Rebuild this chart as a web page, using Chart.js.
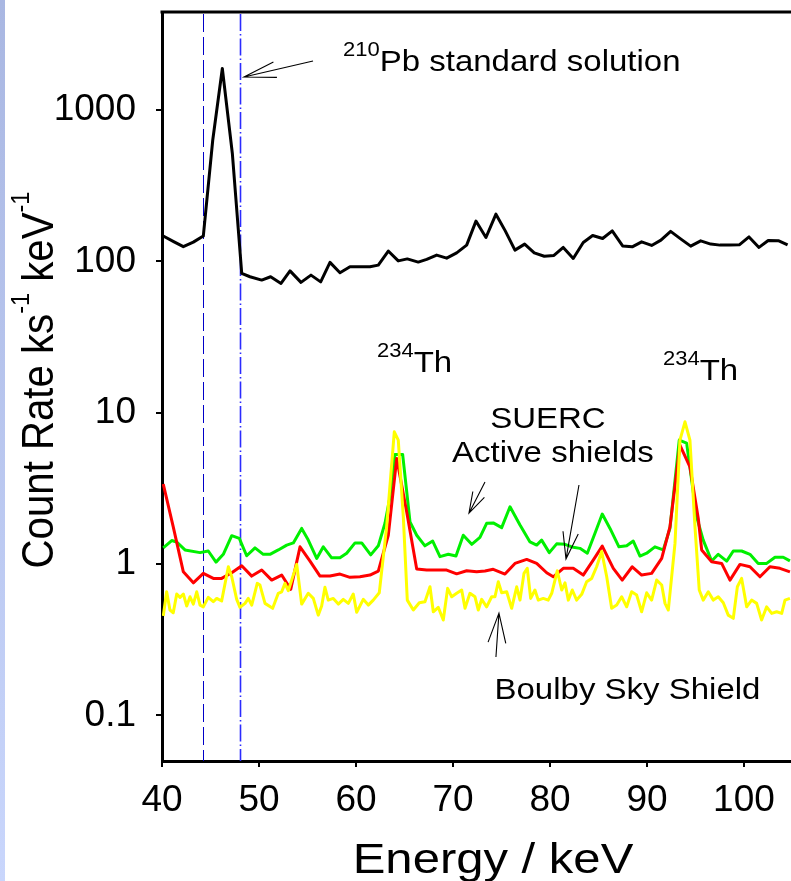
<!DOCTYPE html>
<html>
<head>
<meta charset="utf-8">
<script src="https://cdn.jsdelivr.net/npm/chart.js@4/dist/chart.umd.min.js"></script>
<style>
  html, body { margin: 0; padding: 0; background: #fff; overflow: hidden; }
  #strip { position: absolute; left: 0; top: 0; width: 5px; height: 881px;
           background: linear-gradient(to bottom, #a9b7e2, #c9d6fc); }
  #wrap { position: absolute; left: 0; top: 0; width: 791px; height: 881px; }
</style>
</head>
<body>
<div id="strip"></div>
<div id="wrap"><canvas id="c"></canvas></div>
<script>
// ---------- DATA ----------
const xTicks = [40, 50, 60, 70, 80, 90, 100];
const yTicks = [0.1, 1, 10, 100, 1000];
const yTickLabels = ['0.1', '1', '10', '100', '1000'];

// 210Pb standard solution (black)
const blackE = [40.13, 41.2, 42.2, 43.23, 44.26, 45.23, 46.22, 47.25, 48.22, 49.07, 50.28, 51.2, 52.27, 53.2, 54.33, 55.36, 56.36, 57.32, 58.35, 59.38, 60.4, 61.44, 62.3, 63.33, 64.36, 65.29, 66.42, 67.29, 68.32, 69.35, 70.38, 71.41, 72.37, 73.4, 74.43, 75.39, 76.39, 77.39, 78.38, 79.41, 80.41, 81.37, 82.4, 83.43, 84.4, 85.43, 86.42, 87.49, 88.48, 89.45, 90.48, 91.44, 92.44, 93.47, 94.51, 95.54, 96.57, 97.53, 98.53, 99.52, 100.52, 101.55, 102.5, 103.54, 104.5];
const blackV = [147, 135, 125, 134, 147, 631, 1879, 518, 83.2, 79.1, 75.2, 79.1, 71.5, 86.5, 72.6, 81.1, 73.2, 98.4, 84, 92, 92, 92, 94.4, 117, 100.7, 103.8, 98.9, 103, 110, 105, 113.8, 128, 184.5, 143.8, 205, 159, 118.6, 130, 113.8, 108, 109.4, 123.6, 104.5, 133.3, 148.3, 141.6, 159, 126.5, 124.7, 134.6, 127.4, 138, 157.7, 140.8, 126, 136.6, 130, 128, 128, 128.5, 145, 123.6, 137.4, 137, 128.5];

// SUERC shield (green)
const greenE = [40.13, 41.0, 41.52, 42.37, 43.92, 44.77, 45.57, 46.32, 47.19, 47.97, 48.73, 49.59, 50.44, 51.13, 51.99, 52.86, 53.54, 54.4, 55.08, 55.95, 56.63, 57.49, 58.35, 59.04, 59.9, 60.59, 61.52, 62.3, 62.99, 63.51, 64.02, 64.81, 65.57, 66.26, 67.11, 67.91, 68.66, 69.52, 70.31, 71.06, 71.93, 72.78, 73.47, 74.15, 75.02, 75.88, 76.91, 77.94, 78.63, 79.14, 79.93, 80.69, 81.55, 82.4, 83.09, 83.85, 84.64, 85.39, 86.19, 87.11, 87.91, 88.59, 89.28, 89.97, 90.82, 91.68, 92.37, 93.33, 94.09, 95.12, 95.8, 96.67, 97.35, 98.22, 98.9, 99.76, 100.62, 101.47, 102.34, 103.2, 104.05, 104.74];
const greenV = [1.28, 1.43, 1.40, 1.24, 1.19, 1.22, 1.03, 1.16, 1.54, 1.48, 1.135, 1.28, 1.16, 1.16, 1.24, 1.335, 1.38, 1.72, 1.44, 1.09, 1.30, 1.10, 1.10, 1.18, 1.38, 1.38, 1.15, 1.32, 1.86, 2.78, 5.30, 5.30, 1.90, 1.55, 1.32, 1.42, 1.12, 1.16, 1.13, 1.55, 1.35, 1.50, 1.86, 1.87, 1.74, 2.39, 1.81, 1.40, 1.335, 1.44, 1.19, 1.36, 1.35, 1.29, 1.27, 1.18, 1.60, 2.14, 1.72, 1.30, 1.32, 1.42, 1.13, 1.18, 1.30, 1.24, 1.72, 6.59, 6.3, 2.05, 1.44, 1.047, 1.16, 1.047, 1.22, 1.22, 1.16, 1.01, 1.01, 1.11, 1.11, 1.05];

// SUERC active shields (red)
const redE = [40.13, 41.16, 42.2, 43.23, 44.26, 45.29, 46.15, 47.19, 48.22, 49.25, 50.28, 51.31, 52.34, 53.27, 54.23, 55.26, 56.29, 57.32, 58.35, 59.38, 60.41, 61.44, 62.3, 63.33, 64.2, 65.23, 66.26, 67.29, 68.32, 69.35, 70.38, 71.41, 72.44, 73.3, 74.15, 75.36, 76.39, 77.6, 78.63, 79.66, 80.34, 81.37, 82.4, 83.43, 84.46, 85.39, 86.53, 87.45, 88.48, 89.45, 90.48, 91.52, 92.37, 93.4, 94.43, 95.29, 95.64, 96.67, 97.7, 98.56, 99.59, 100.62, 101.65, 102.68, 103.71, 104.74];
const redV = [3.38, 1.76, 0.889, 0.752, 0.868, 0.804, 0.804, 0.876, 0.975, 0.833, 0.913, 0.784, 0.846, 0.681, 1.30, 1.047, 0.833, 0.833, 0.859, 0.817, 0.824, 0.846, 0.899, 1.55, 4.99, 2.21, 0.927, 0.913, 0.913, 0.913, 0.862, 0.903, 0.889, 0.90, 0.923, 0.859, 1.01, 1.074, 1.01, 0.876, 0.824, 0.937, 0.937, 0.846, 1.063, 1.315, 0.937, 0.784, 0.96, 0.846, 0.868, 1.09, 1.76, 6.11, 4.39, 2.00, 1.24, 1.036, 1.01, 0.784, 0.995, 0.96, 0.824, 0.96, 0.937, 0.889];

// Boulby Sky Shield (yellow)
const yellowE = [40.13, 40.48, 40.82, 41.16, 41.52, 41.86, 42.2, 42.55, 42.89, 43.23, 43.58, 43.92, 44.26, 44.77, 45.29, 45.64, 46.15, 46.84, 47.19, 47.7, 48.04, 48.56, 48.9, 49.25, 49.82, 50.1, 50.62, 51.41, 51.99, 52.34, 52.68, 53.02, 53.89, 54.4, 55.08, 55.6, 56.11, 56.46, 56.8, 57.14, 57.66, 58.18, 58.69, 59.21, 59.72, 60.07, 60.75, 61.27, 61.78, 62.4, 63.16, 63.95, 64.36, 64.88, 65.29, 65.91, 66.53, 67.11, 67.63, 67.97, 68.48, 69.0, 69.45, 69.87, 70.38, 70.9, 71.24, 71.75, 72.27, 72.61, 72.96, 73.47, 73.99, 74.33, 74.67, 75.02, 75.54, 76.05, 76.57, 76.91, 77.32, 77.66, 78.01, 78.45, 78.79, 79.31, 79.82, 80.18, 80.75, 81.21, 81.55, 81.89, 82.3, 82.75, 83.27, 83.78, 84.3, 84.81, 85.33, 85.85, 86.36, 86.88, 87.39, 87.91, 88.42, 88.94, 89.45, 89.97, 90.48, 91.0, 91.52, 91.86, 92.2, 92.89, 93.4, 93.92, 94.43, 94.95, 95.39, 95.8, 96.32, 96.84, 97.35, 97.87, 98.38, 98.9, 99.32, 99.76, 100.28, 100.79, 101.31, 101.82, 102.34, 102.86, 103.37, 103.89, 104.23, 104.74];
const yellowV = [0.454, 0.656, 0.497, 0.477, 0.634, 0.603, 0.634, 0.528, 0.608, 0.544, 0.656, 0.536, 0.522, 0.603, 0.564, 0.593, 0.570, 0.96, 0.824, 0.585, 0.518, 0.550, 0.593, 0.536, 0.746, 0.727, 0.550, 0.510, 0.641, 0.656, 0.746, 0.667, 0.995, 0.544, 0.641, 0.593, 0.460, 0.528, 0.702, 0.578, 0.593, 0.544, 0.585, 0.550, 0.634, 0.480, 0.585, 0.536, 0.578, 0.646, 1.76, 7.48, 6.59, 2.05, 0.578, 0.497, 0.555, 0.564, 0.708, 0.484, 0.518, 0.427, 0.691, 0.608, 0.641, 0.674, 0.510, 0.641, 0.608, 0.497, 0.585, 0.522, 0.608, 0.608, 0.764, 0.646, 0.656, 0.510, 0.708, 0.578, 0.868, 0.937, 0.593, 0.674, 0.578, 0.593, 0.578, 0.641, 0.903, 0.674, 0.752, 0.578, 0.674, 0.578, 0.631, 0.764, 0.804, 0.96, 1.21, 0.824, 0.510, 0.536, 0.608, 0.522, 0.656, 0.624, 0.484, 0.646, 0.578, 0.784, 0.727, 0.550, 0.497, 1.37, 6.59, 8.71, 6.59, 1.76, 0.674, 0.578, 0.656, 0.578, 0.608, 0.555, 0.460, 0.438, 0.708, 0.804, 0.522, 0.578, 0.550, 0.427, 0.522, 0.472, 0.484, 0.472, 0.578, 0.593];

// Energy window markers (keV)
const markerE = [44.26, 48.04];

// Annotation texts (data coordinates: keV, count rate)
const annoSup  = ['210', '234', '234', '', '', ''];
const annoText = ['Pb standard solution', 'Th', 'Th', 'SUERC', 'Active shields', 'Boulby Sky Shield'];
const annoE    = [58.66, 62.16, 91.65, 79.79, 80.31, 87.99];
const annoV    = [1818, 18.65, 16.44, 7.92, 4.72, 0.128];
const annoAlign = ['left', 'left', 'left', 'center', 'center', 'center'];

// Arrows (tail -> tip) in data coordinates
const arrowTailE = [55.57, 73.30, 82.99, 74.43];
const arrowTailV = [2108, 3.48, 3.33, 0.243];
const arrowTipE  = [48.45, 71.65, 81.65, 74.74];
const arrowTipV  = [1652, 2.17, 1.079, 0.4745];

// ---------- CHART ----------
const FONT = "'Liberation Sans', Arial, Helvetica, sans-serif";
const pts = (xs, ys) => xs.map((x, i) => ({ x: x, y: ys[i] }));

// draws text runs (with optional superscripts) at (x, y) baseline, with a stretch (sx, sy)
function richText(ctx, parts, x, y, align, sx, sy) {
  sx = sx || 1; sy = sy || 1;
  let w = 0;
  parts.forEach(p => { ctx.font = p.size + 'px ' + FONT; p.w = ctx.measureText(p.t).width; w += p.w; });
  ctx.save();
  ctx.translate(x, y);
  ctx.scale(sx, sy);
  let cx = align === 'center' ? -w / 2 : 0;
  ctx.textAlign = 'left';
  ctx.textBaseline = 'alphabetic';
  parts.forEach(p => { ctx.font = p.size + 'px ' + FONT; ctx.fillText(p.t, cx, -(p.rise || 0)); cx += p.w; });
  ctx.restore();
}

function arrow(ctx, x1, y1, x2, y2, len, ang) {
  const a = Math.atan2(y1 - y2, x1 - x2);
  ctx.beginPath();
  ctx.moveTo(x1, y1); ctx.lineTo(x2, y2);
  ctx.moveTo(x2 + len * Math.cos(a + ang), y2 + len * Math.sin(a + ang));
  ctx.lineTo(x2, y2);
  ctx.lineTo(x2 + len * Math.cos(a - ang), y2 + len * Math.sin(a - ang));
  ctx.stroke();
}

const overlay = {
  id: 'overlay',
  beforeDatasetsDraw(chart) {
    const { ctx, chartArea: a, scales: { x } } = chart;
    ctx.save();
    markerE.forEach((e, i) => {
      const px = Math.round(x.getPixelForValue(e)) + 0.5;
      ctx.beginPath();
      ctx.strokeStyle = i === 0 ? '#0000c8' : '#2b2bff';
      ctx.lineWidth = i === 0 ? 1 : 1.6;
      ctx.setLineDash(i === 0 ? [18, 5] : [17, 3, 1.5, 3]);
      ctx.moveTo(px, a.top + 2); ctx.lineTo(px, a.bottom);
      ctx.stroke();
    });
    ctx.restore();
  },
  afterDraw(chart) {
    const { ctx, chartArea: a, scales: { x, y } } = chart;
    ctx.save();
    // top frame line
    ctx.strokeStyle = '#000'; ctx.lineWidth = 3; ctx.setLineDash([]);
    ctx.beginPath(); ctx.moveTo(a.left - 1.5, a.top); ctx.lineTo(a.right, a.top); ctx.stroke();

    // arrows
    const heads = [[33, 0.24], [22, 0.30], [28, 0.28], [31, 0.29]];
    ctx.lineWidth = 1.1; ctx.strokeStyle = '#000';
    arrowTailE.forEach((e, i) => {
      arrow(ctx, x.getPixelForValue(e), y.getPixelForValue(arrowTailV[i]),
                 x.getPixelForValue(arrowTipE[i]), y.getPixelForValue(arrowTipV[i]),
                 heads[i][0], heads[i][1]);
    });

    // annotation texts
    ctx.fillStyle = '#000';
    annoText.forEach((t, i) => {
      const parts = [];
      if (annoSup[i]) parts.push({ t: annoSup[i], size: 20, rise: 15 });
      parts.push({ t: t, size: 30 });
      richText(ctx, parts, x.getPixelForValue(annoE[i]), y.getPixelForValue(annoV[i]), annoAlign[i], 1.1, 1);
    });

    // x-axis title
    richText(ctx, [{ t: 'Energy / keV', size: 43 }], 493, 873, 'center', 1.14, 1);

    // y-axis title (rotated)
    ctx.save();
    ctx.translate(53, 380);
    ctx.rotate(-Math.PI / 2);
    richText(ctx, [
      { t: 'Count Rate ks', size: 41 },
      { t: '-1', size: 24, rise: 22 },
      { t: ' keV', size: 41 },
      { t: '-1', size: 24, rise: 22 }
    ], 0, 0, 'center', 0.98, 1.1);
    ctx.restore();

    ctx.restore();
  }
};

const lineDs = (label, xs, ys, color, order) => ({
  label: label, data: pts(xs, ys), borderColor: color, backgroundColor: color,
  borderWidth: 3, pointRadius: 0, tension: 0, fill: false, order: order,
  borderJoinStyle: 'round'
});

new Chart(document.getElementById('c'), {
  type: 'line',
  data: {
    datasets: [
      lineDs('Boulby Sky Shield', yellowE, yellowV, '#ffff00', 1),
      lineDs('SUERC active shields', redE, redV, '#ff0000', 2),
      lineDs('SUERC', greenE, greenV, '#00f000', 3),
      lineDs('210Pb standard solution', blackE, blackV, '#000000', 4)
    ]
  },
  options: {
    responsive: true,
    maintainAspectRatio: false,
    animation: false,
    events: [],
    layout: { padding: { top: 12, right: 0, bottom: 0, left: 0 } },
    plugins: { legend: { display: false }, tooltip: { enabled: false } },
    scales: {
      x: {
        type: 'linear', min: 40, max: 104.85,
        afterBuildTicks: s => { s.ticks = xTicks.map(v => ({ value: v })); },
        afterFit: s => { s.height = 120; s.paddingLeft = 0; s.paddingRight = 0; },
        grid: { drawOnChartArea: false, drawTicks: true, tickLength: 6, color: '#000', lineWidth: 2 },
        border: { display: true, color: '#000', width: 3 },
        ticks: { color: '#000', font: { family: FONT, size: 37 }, padding: 12, maxRotation: 0, autoSkip: false,
                 callback: v => String(v) }
      },
      y: {
        type: 'logarithmic', min: 0.05, max: 4440,
        afterBuildTicks: s => { s.ticks = yTicks.map(v => ({ value: v })); },
        afterFit: s => { s.width = 162; s.paddingTop = 0; s.paddingBottom = 0; },
        grid: { drawOnChartArea: false, drawTicks: true, tickLength: 6, color: '#000', lineWidth: 2 },
        border: { display: true, color: '#000', width: 3 },
        ticks: { color: '#000', font: { family: FONT, size: 37 }, padding: 20, autoSkip: false,
                 callback: v => { const k = yTicks.indexOf(v); return k >= 0 ? yTickLabels[k] : ''; } }
      }
    }
  },
  plugins: [overlay]
});
</script>
</body>
</html>
